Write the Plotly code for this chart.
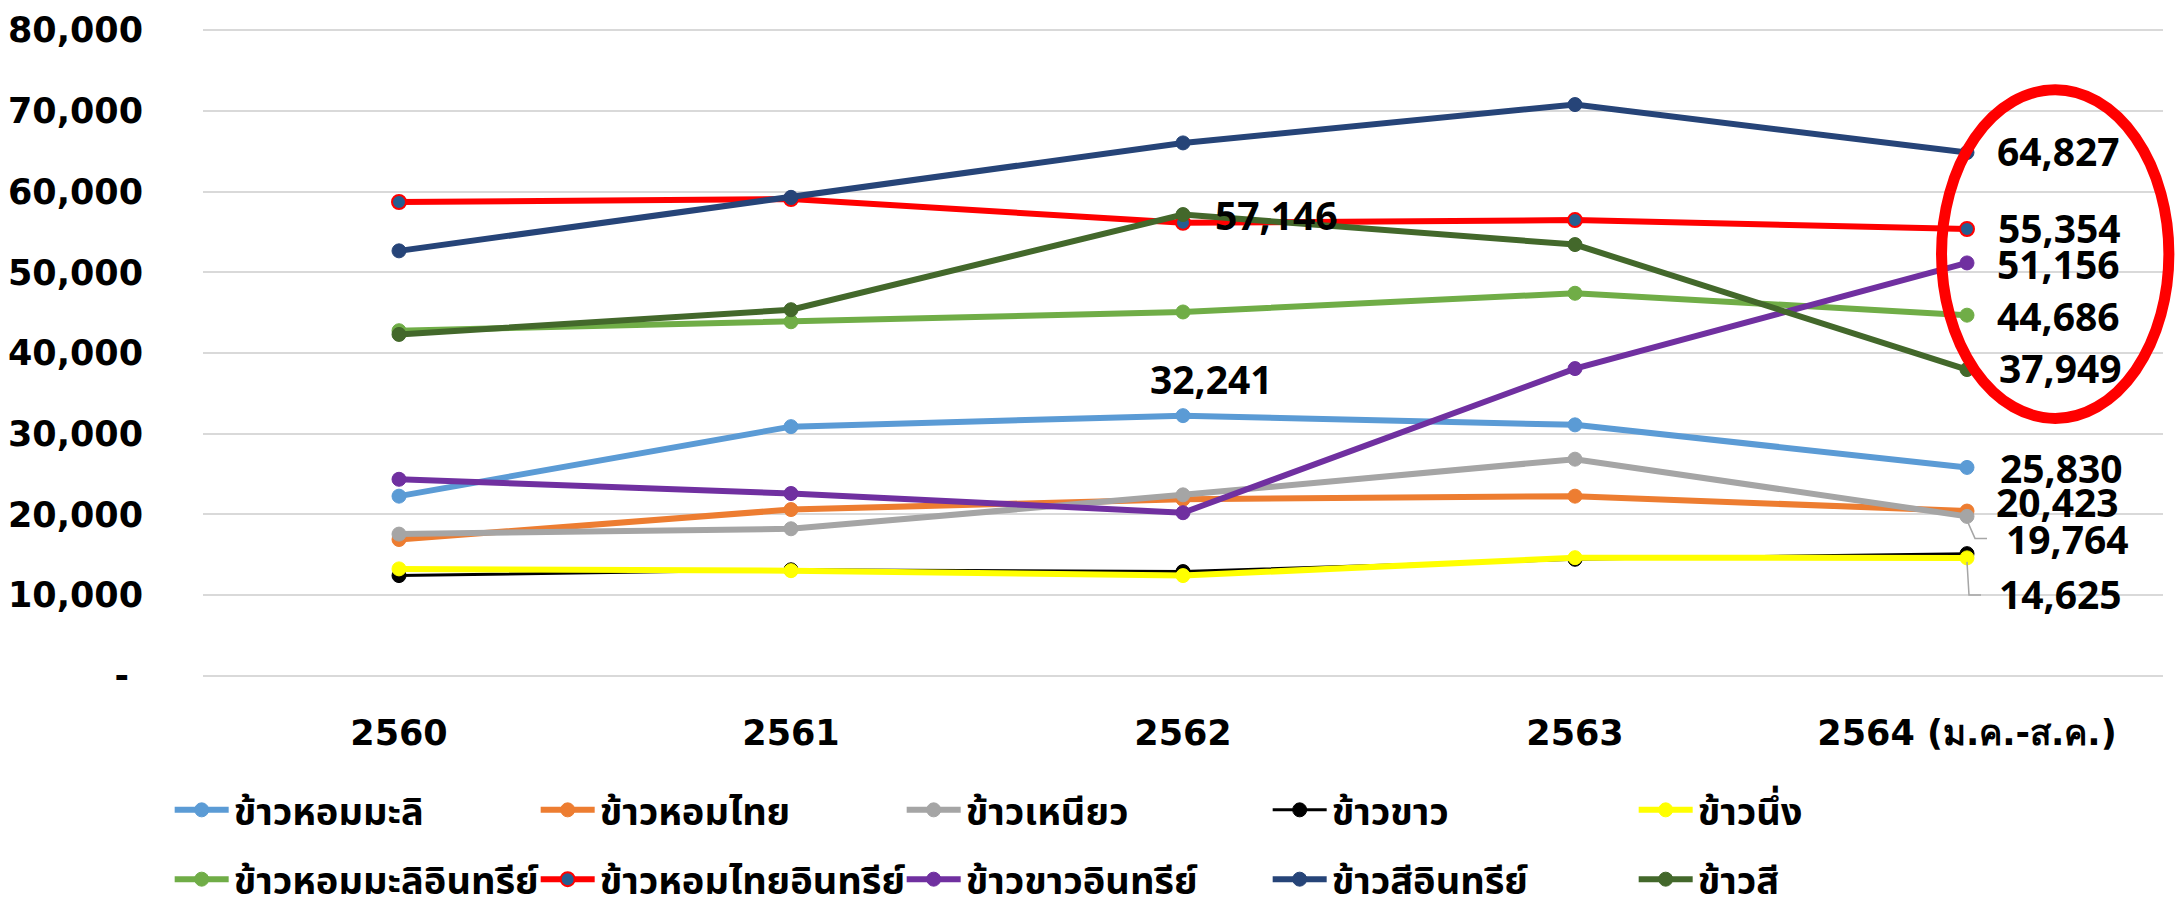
import plotly.graph_objects as go

categories = ["2560", "2561", "2562", "2563", "2564 (ม.ค.-ส.ค.)"]

series_names = [
    "ข้าวหอมมะลิ", "ข้าวหอมไทย", "ข้าวเหนียว", "ข้าวขาว", "ข้าวนึ่ง",
    "ข้าวหอมมะลิอินทรีย์", "ข้าวหอมไทยอินทรีย์", "ข้าวขาวอินทรีย์", "ข้าวสีอินทรีย์", "ข้าวสี",
]

hom_mali = [22270, 30880, 32241, 31100, 25830]
hom_thai = [16900, 20610, 21880, 22270, 20423]
niao = [17570, 18230, 22430, 26850, 19764]
khao = [12430, 13150, 12930, 14450, 15150]
nueng = [13260, 13040, 12430, 14650, 14625]
hom_mali_org = [42760, 43870, 45080, 47400, 44686]
hom_thai_org = [58700, 59060, 56130, 56460, 55354]
khao_org = [24360, 22600, 20220, 38070, 51156]
si_org = [52650, 59280, 66020, 70770, 64827]
si = [42300, 45360, 57146, 53430, 37949]

values = [hom_mali, hom_thai, niao, khao, nueng,
          hom_mali_org, hom_thai_org, khao_org, si_org, si]

colors = ["#5B9BD5", "#ED7D31", "#A5A5A5", "#000000", "#FFFF00",
          "#70AD47", "#FF0000", "#7030A0", "#264478", "#43682B"]
marker_fill = list(colors)
marker_fill[6] = "#255E91"
line_widths = [6, 6, 6, 3, 6, 6, 6, 6, 6, 6]

y_ticks = [0, 10000, 20000, 30000, 40000, 50000, 60000, 70000, 80000]
y_ticktext = ["-\u2009\u2009"] + [f"{v:,}" for v in y_ticks[1:]]

fig = go.Figure()
for i, (name, vals) in enumerate(zip(series_names, values)):
    fig.add_trace(go.Scatter(
        x=categories, y=vals, name=name, mode="lines+markers",
        line=dict(color=colors[i], width=line_widths[i]),
        marker=dict(size=14, color=marker_fill[i],
                    line=dict(color=colors[i], width=2 if i == 6 else 1)),
        legend="legend" if i < 5 else "legend2",
        hoverinfo="skip",
    ))

label_font = dict(family="Noto Sans, Open Sans, sans-serif", size=39,
                  color="#000000", weight="bold")

# (series index, category index, xshift, yshift, xanchor)
labels = [
    (8, 4, 28, 2, "left"),
    (6, 4, 29, 2, "left"),
    (7, 4, 28, -1, "left"),
    (5, 4, 28, 0, "left"),
    (9, 4, 30, 2, "left"),
    (0, 4, 31, 0, "left"),
    (1, 4, 27, 10, "left"),
    (2, 4, 37, -22, "left"),
    (4, 4, 30, -36, "left"),
    (9, 2, 30, 0, "left"),
    (0, 2, 28, 37, "center"),
]
for si_, ci, xs, ys, xa in labels:
    v = values[si_][ci]
    fig.add_annotation(x=ci, y=v, xref="x", yref="y", text=f"{v:,}", showarrow=False,
                       xanchor=xa, yanchor="middle", xshift=xs, yshift=ys,
                       font=label_font)

# leader lines for the two lower labels (pixel offsets relative to the point)
leaders = [
    (2, 4, "M0,-4 L8,-22 L20,-22"),
    (4, 4, "M0,-4 L2,-37 L14,-37"),
]
for si_, ci, path in leaders:
    fig.add_shape(type="path", xref="x", yref="y", xsizemode="pixel", ysizemode="pixel",
                  xanchor=ci, yanchor=values[si_][ci], path=path,
                  line=dict(color="#A6A6A6", width=1.5))

# red highlight ellipse
fig.add_shape(type="circle", xref="paper", yref="y",
              x0=0.887, x1=1.003, y0=31900, y1=72600,
              line=dict(color="#FF0000", width=11), layer="above")

axis_font = dict(family="DejaVu Sans", size=35, color="#000000", weight="bold")
legend_font = dict(family="Noto Sans Thai, Noto Sans, sans-serif", size=38,
                   color="#000000", weight="bold")

fig.update_layout(
    width=2177, height=904,
    margin=dict(l=203, r=14, t=26, b=224, autoexpand=False),
    plot_bgcolor="white", paper_bgcolor="white",
    xaxis=dict(type="category", showgrid=False, showline=False, zeroline=False,
               tickfont=axis_font, ticks="outside", ticklen=22, tickcolor="rgba(0,0,0,0)",
               range=[-0.5, 4.5]),
    yaxis=dict(range=[-500, 80500], tickvals=y_ticks, ticktext=y_ticktext,
               showgrid=True, gridcolor="#D9D9D9", gridwidth=2,
               zeroline=True, zerolinecolor="#D9D9D9", zerolinewidth=2,
               showline=False, tickfont=axis_font,
               ticks="outside", ticklen=52, tickcolor="rgba(0,0,0,0)"),
    legend=dict(orientation="h", x=-0.017, xanchor="left", y=-0.199, yanchor="middle",
                entrywidth=297, entrywidthmode="pixels", font=legend_font,
                itemwidth=54, bgcolor="rgba(0,0,0,0)"),
    legend2=dict(orientation="h", x=-0.017, xanchor="left", y=-0.305, yanchor="middle",
                 entrywidth=297, entrywidthmode="pixels", font=legend_font,
                 itemwidth=54, bgcolor="rgba(0,0,0,0)"),
    showlegend=True,
)

fig.write_html("out.html", config={"displayModeBar": False},
               post_script="document.body.style.margin='0';")
